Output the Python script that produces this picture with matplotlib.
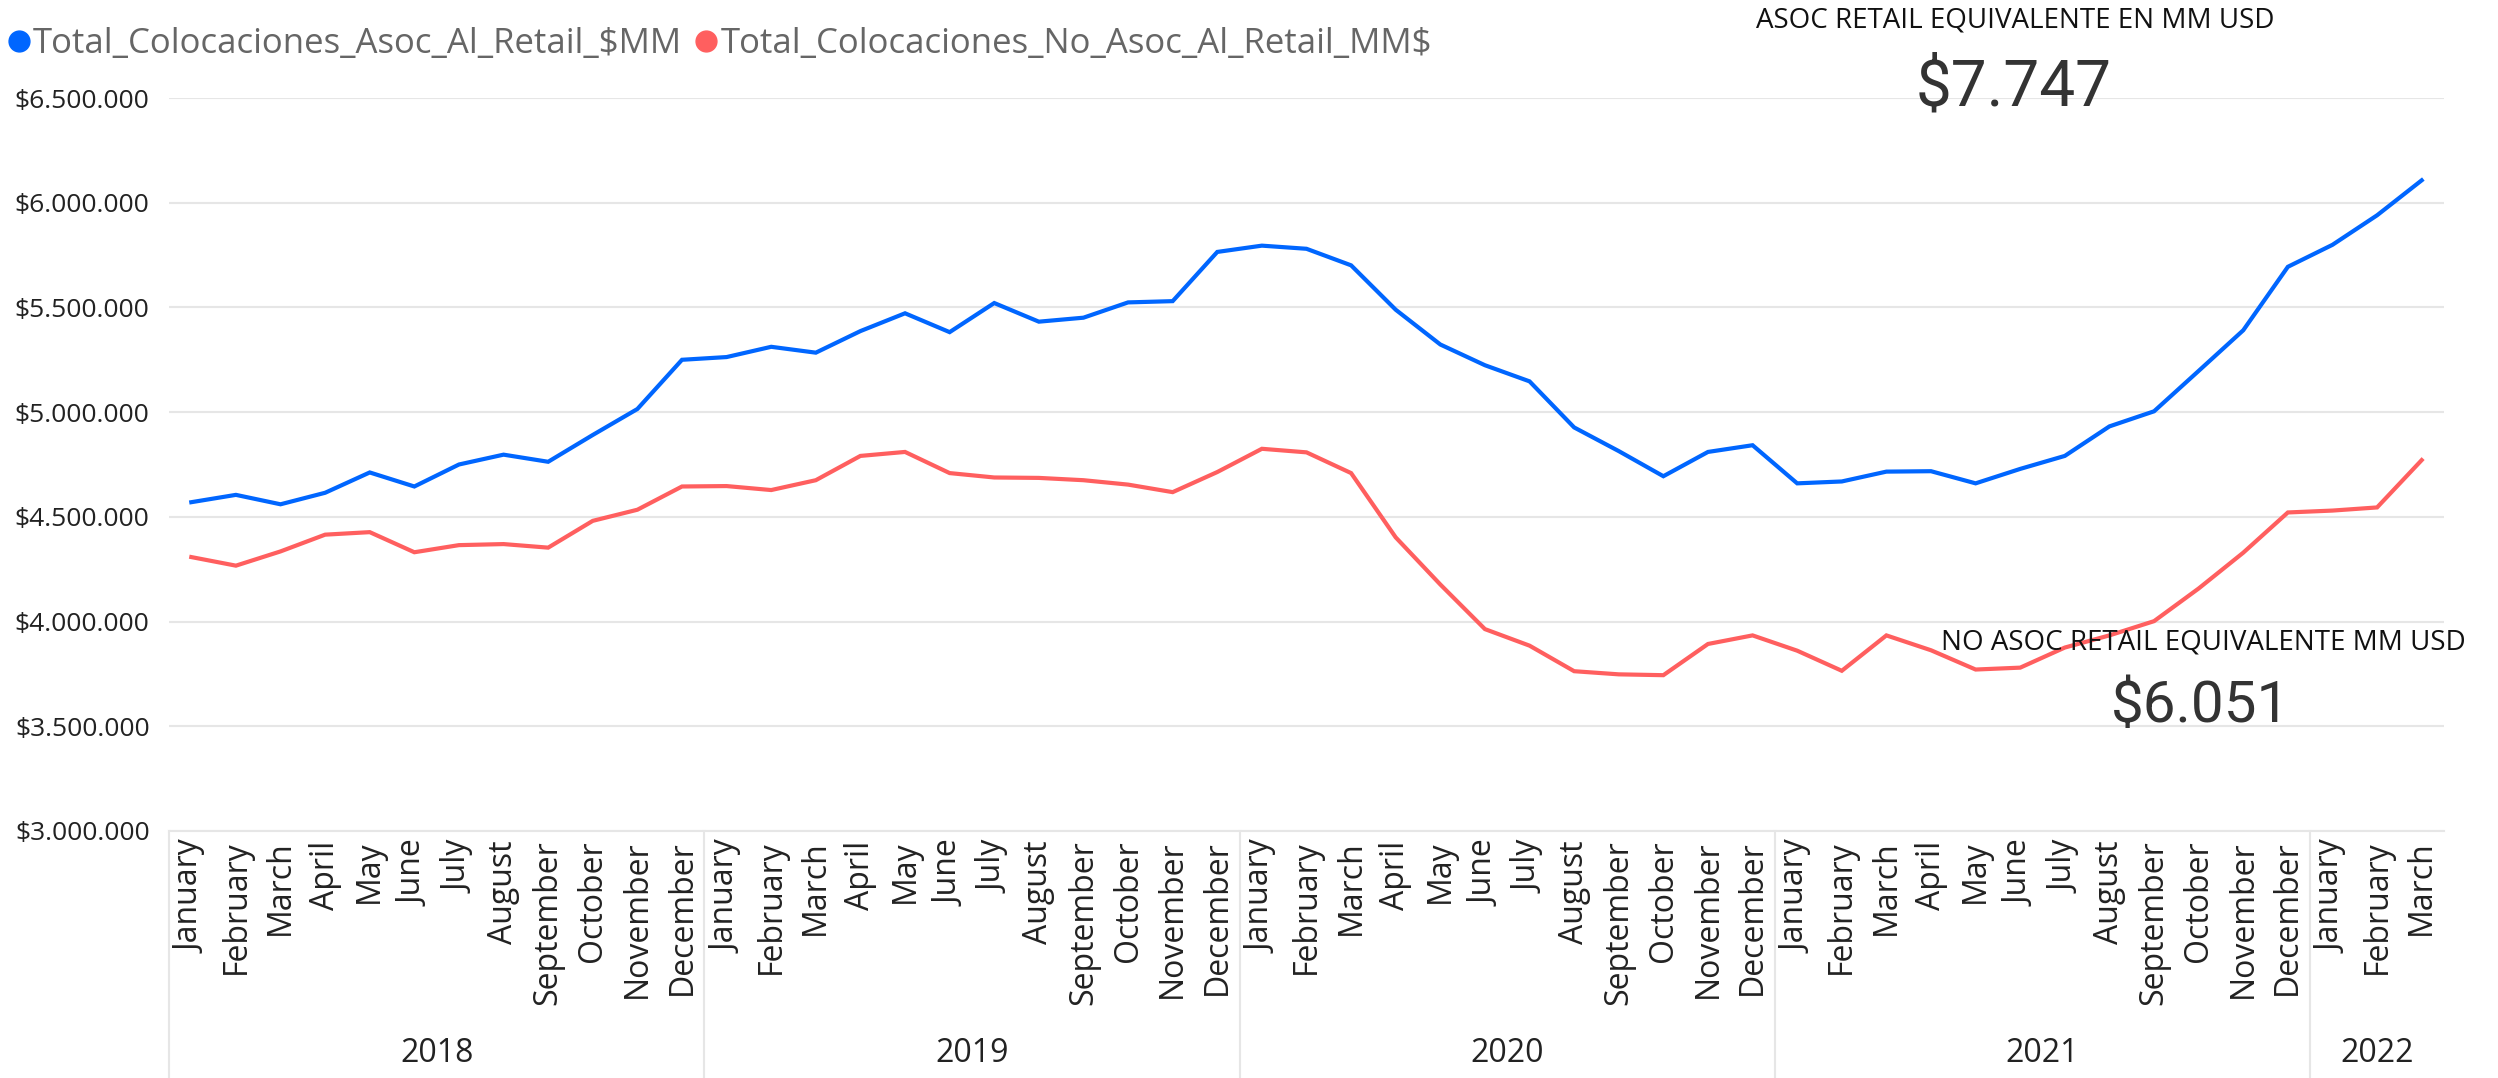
import numpy as np
import matplotlib
matplotlib.use("Agg")
import matplotlib.pyplot as plt
import matplotlib.transforms as mtransforms
from matplotlib.lines import Line2D
from matplotlib.ticker import FuncFormatter

# monthly series, Jan 2018 .. Mar 2022
month_names = ["January", "February", "March", "April", "May", "June", "July",
               "August", "September", "October", "November", "December"]
years = ["2018", "2019", "2020", "2021", "2022"]
months_per_year = [12, 12, 12, 12, 3]
months = [m for n in months_per_year for m in month_names[:n]]

asoc_retail = [4570, 4605, 4560, 4615, 4712, 4645, 4750, 4797, 4763, 4891, 5015, 5250,
               5263, 5312, 5284, 5387, 5472, 5382, 5521, 5432, 5451, 5524, 5530, 5765,
               5795, 5780, 5701, 5489, 5323, 5224, 5147, 4927, 4814, 4694, 4810, 4842,
               4660, 4669, 4716, 4718, 4660, 4729, 4791, 4932, 5004, 5197, 5391, 5694,
               5799, 5940, 6107]
no_asoc_retail = [4308, 4267, 4335, 4415, 4427, 4331, 4365, 4370, 4353, 4481, 4534, 4645,
                  4647, 4628, 4675, 4791, 4810, 4709, 4688, 4686, 4675, 4654, 4618, 4714,
                  4825, 4808, 4709, 4402, 4177, 3964, 3885, 3763, 3748, 3744, 3893, 3934,
                  3861, 3765, 3934, 3863, 3771, 3780, 3876, 3934, 4002, 4158, 4329, 4521,
                  4530, 4545, 4771]
asoc_retail = np.array(asoc_retail) * 1000
no_asoc_retail = np.array(no_asoc_retail) * 1000

series_names = ["Total_Colocaciones_Asoc_Al_Retail_$MM",
                "Total_Colocaciones_No_Asoc_Al_Retail_MM$"]
card_titles = ["ASOC RETAIL EQUIVALENTE EN MM USD", "NO ASOC RETAIL EQUIVALENTE MM USD"]
card_values = ["$7.747", "$6.051"]

blue = "#0066FF"
red = "#FF5F5F"
grid_col = "#E6E6E6"

plt.rcParams["font.family"] = ["Open Sans", "DejaVu Sans"]

W, H = 2498, 1078
fig = plt.figure(figsize=(W / 100, H / 100), dpi=100)
ax_l, ax_r, ax_t, ax_b = 169, 2444, 98, 831
ax = fig.add_axes([ax_l / W, 1 - ax_b / H, (ax_r - ax_l) / W, (ax_b - ax_t) / H])

x = np.arange(len(months))
ax.plot(x, asoc_retail, color=blue, lw=3.0, solid_joinstyle="miter", zorder=3)
ax.plot(x, no_asoc_retail, color=red, lw=3.0, solid_joinstyle="miter", zorder=3)

ax.set_xlim(-0.5, len(months) - 0.5)
ax.set_ylim(3000000, 6500000)
ax.set_yticks(np.arange(3000000, 6500001, 500000))
ax.yaxis.set_major_formatter(FuncFormatter(lambda v, p: "$" + format(int(v), ",").replace(",", ".")))
ax.grid(axis="y", color=grid_col, lw=1.5)
ax.set_axisbelow(True)
for s in ["top", "right", "left"]:
    ax.spines[s].set_visible(False)
ax.spines["bottom"].set_color(grid_col)
ax.spines["bottom"].set_linewidth(1.5)

ax.set_xticks(x)
ax.set_xticklabels(months, rotation=90, fontsize=23, color="#222222")
ax.tick_params(axis="x", length=0, pad=7)
ax.tick_params(axis="y", length=0, pad=14, labelsize=19, labelcolor="#222222")

# year bands under the month labels
trans = mtransforms.blended_transform_factory(ax.transData, ax.transAxes)
depth = (H - ax_b) / (ax_b - ax_t)
start = 0
for yr, n in zip(years, months_per_year):
    ax.plot([start - 0.5, start - 0.5], [0, -depth], transform=trans, color=grid_col,
            lw=1.5, clip_on=False)
    ax.text(start + (n - 1) / 2, -(1053 - ax_b) / (ax_b - ax_t), yr, transform=trans,
            ha="center", va="center", fontsize=23, color="#222222")
    start += n

# legend
handles = [Line2D([], [], marker="o", ls="", color=c, markersize=15) for c in (blue, red)]
leg = fig.legend(handles, series_names, loc="center left", bbox_to_anchor=(0.0, 1 - 44 / H),
                 ncol=2, frameon=False, fontsize=25, handletextpad=-0.15, columnspacing=0.15,
                 borderaxespad=0, handlelength=1.1, borderpad=0)
for t in leg.get_texts():
    t.set_color("#666666")

# KPI cards
fig.text(2015 / W, 1 - 20 / H, card_titles[0], ha="center", va="center", fontsize=20, color="#111111")
fig.text(2014 / W, 1 - 88 / H, card_values[0], ha="center", va="center", fontsize=46,
         color="#333333", family=["Roboto", "DejaVu Sans"])
fig.text(2203 / W, 1 - 643 / H, card_titles[1], ha="center", va="center", fontsize=20, color="#111111")
fig.text(2201 / W, 1 - 707 / H, card_values[1], ha="center", va="center", fontsize=42,
         color="#333333", family=["Roboto", "DejaVu Sans"])

fig.savefig("out.png", dpi=100, facecolor="white")
